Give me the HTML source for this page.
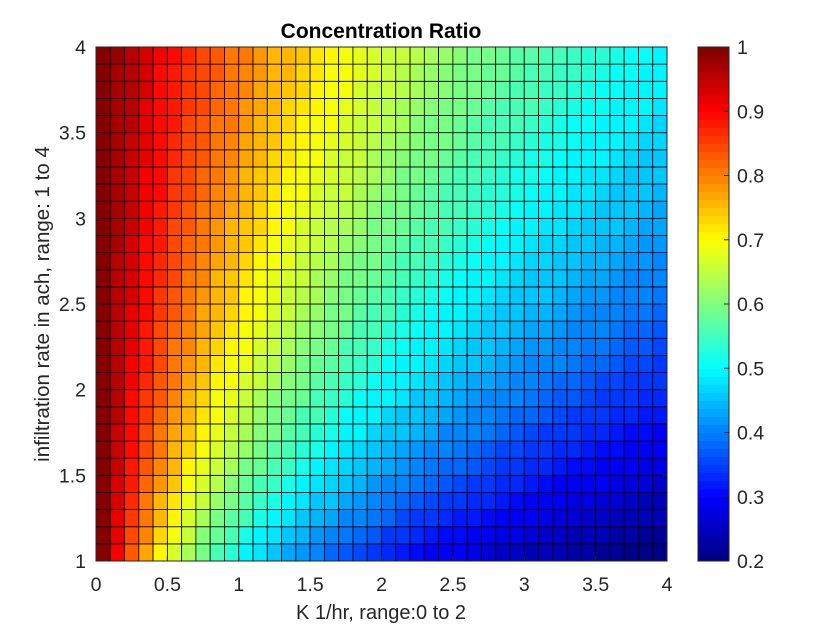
<!DOCTYPE html>
<html><head><meta charset="utf-8"><style>
html,body{margin:0;padding:0;background:#fff;}
svg{display:block;font-family:"Liberation Sans",Arial,sans-serif;}
</style></head><body>
<svg id="chart" width="840" height="630" viewBox="0 0 840 630">
<rect width="840" height="630" fill="#fff"/>
<g id="cells"></g>
<g id="axes"></g>
<g id="cbar"></g>
<text x="381" y="38" text-anchor="middle" font-size="21" font-weight="bold" fill="#000">Concentration Ratio</text>
<text x="381" y="619" text-anchor="middle" font-size="20" fill="#262626">K 1/hr, range:0 to 2</text>
<text transform="translate(49,304) rotate(-90)" text-anchor="middle" font-size="20.5" fill="#262626">infiltration rate in ach, range: 1 to 4</text>
</svg>
<script>
const xEdges=[0,0.1,0.2,0.3,0.4,0.5,0.6,0.7,0.8,0.9,1,1.1,1.2,1.3,1.4,1.5,1.6,1.7,1.8,1.9,2,2.1,2.2,2.3,2.4,2.5,2.6,2.7,2.8,2.9,3,3.1,3.2,3.3,3.4,3.5,3.6,3.7,3.8,3.9,4];
const yEdges=[1,1.1,1.2,1.3,1.4,1.5,1.6,1.7,1.8,1.9,2,2.1,2.2,2.3,2.4,2.5,2.6,2.7,2.8,2.9,3,3.1,3.2,3.3,3.4,3.5,3.6,3.7,3.8,3.9,4];
const xTicks=[0,0.5,1,1.5,2,2.5,3,3.5,4];
const xTickLabels=["0","0.5","1","1.5","2","2.5","3","3.5","4"];
const yTicks=[1,1.5,2,2.5,3,3.5,4];
const yTickLabels=["1","1.5","2","2.5","3","3.5","4"];
const cTicks=[0.2,0.3,0.4,0.5,0.6,0.7,0.8,0.9,1];
const cTickLabels=["0.2","0.3","0.4","0.5","0.6","0.7","0.8","0.9","1"];
const cMin=0.2, cMax=1;
const values=[
[1,.91,.83,.77,.71,.67,.63,.59,.56,.53,.50,.48,.45,.43,.42,.40,.38,.37,.36,.34,.33,.32,.31,.30,.29,.29,.28,.27,.26,.26,.25,.24,.24,.23,.23,.22,.22,.21,.21,.20],
[1,.92,.85,.79,.73,.69,.65,.61,.58,.55,.52,.50,.48,.46,.44,.42,.41,.39,.38,.37,.35,.34,.33,.32,.31,.31,.30,.29,.28,.28,.27,.26,.26,.25,.24,.24,.23,.23,.22,.22],
[1,.92,.86,.80,.75,.71,.67,.63,.60,.57,.55,.52,.50,.48,.46,.44,.43,.41,.40,.39,.38,.36,.35,.34,.33,.32,.32,.31,.30,.29,.29,.28,.27,.27,.26,.26,.25,.24,.24,.24],
[1,.93,.87,.81,.76,.72,.68,.65,.62,.59,.57,.54,.52,.50,.48,.46,.45,.43,.42,.41,.39,.38,.37,.36,.35,.34,.33,.33,.32,.31,.30,.30,.29,.28,.28,.27,.27,.26,.25,.25],
[1,.93,.88,.82,.78,.74,.70,.67,.64,.61,.58,.56,.54,.52,.50,.48,.47,.45,.44,.42,.41,.40,.39,.38,.37,.36,.35,.34,.33,.33,.32,.31,.30,.30,.29,.29,.28,.27,.27,.26],
[1,.94,.88,.83,.79,.75,.71,.68,.65,.63,.60,.58,.56,.54,.52,.50,.48,.47,.45,.44,.43,.42,.41,.39,.38,.38,.37,.36,.35,.34,.33,.33,.32,.31,.31,.30,.29,.29,.28,.28],
[1,.94,.89,.84,.80,.76,.73,.70,.67,.64,.62,.59,.57,.55,.53,.52,.50,.48,.47,.46,.44,.43,.42,.41,.40,.39,.38,.37,.36,.36,.35,.34,.33,.33,.32,.31,.31,.30,.30,.29],
[1,.94,.89,.85,.81,.77,.74,.71,.68,.65,.63,.61,.59,.57,.55,.53,.52,.50,.49,.47,.46,.45,.44,.43,.41,.40,.40,.39,.38,.37,.36,.35,.35,.34,.33,.33,.32,.31,.31,.30],
[1,.95,.90,.86,.82,.78,.75,.72,.69,.67,.64,.62,.60,.58,.56,.55,.53,.51,.50,.49,.47,.46,.45,.44,.43,.42,.41,.40,.39,.38,.38,.37,.36,.35,.35,.34,.33,.33,.32,.32],
[1,.95,.90,.86,.83,.79,.76,.73,.70,.68,.66,.63,.61,.59,.58,.56,.54,.53,.51,.50,.49,.48,.46,.45,.44,.43,.42,.41,.40,.40,.39,.38,.37,.37,.36,.35,.35,.34,.33,.33],
[1,.95,.91,.87,.83,.80,.77,.74,.71,.69,.67,.65,.63,.61,.59,.57,.56,.54,.53,.51,.50,.49,.48,.47,.45,.44,.43,.43,.42,.41,.40,.39,.38,.38,.37,.36,.36,.35,.34,.34],
[1,.95,.91,.88,.84,.81,.78,.75,.72,.70,.68,.66,.64,.62,.60,.58,.57,.55,.54,.53,.51,.50,.49,.48,.47,.46,.45,.44,.43,.42,.41,.40,.40,.39,.38,.38,.37,.36,.36,.35],
[1,.96,.92,.88,.85,.81,.79,.76,.73,.71,.69,.67,.65,.63,.61,.59,.58,.56,.55,.54,.52,.51,.50,.49,.48,.47,.46,.45,.44,.43,.42,.42,.41,.40,.39,.39,.38,.37,.37,.36],
[1,.96,.92,.88,.85,.82,.79,.77,.74,.72,.70,.68,.66,.64,.62,.61,.59,.58,.56,.55,.53,.52,.51,.50,.49,.48,.47,.46,.45,.44,.43,.43,.42,.41,.40,.40,.39,.38,.38,.37],
[1,.96,.92,.89,.86,.83,.80,.77,.75,.73,.71,.69,.67,.65,.63,.62,.60,.59,.57,.56,.55,.53,.52,.51,.50,.49,.48,.47,.46,.45,.44,.44,.43,.42,.41,.41,.40,.39,.39,.38],
[1,.96,.93,.89,.86,.83,.81,.78,.76,.74,.71,.69,.68,.66,.64,.63,.61,.60,.58,.57,.56,.54,.53,.52,.51,.50,.49,.48,.47,.46,.45,.45,.44,.43,.42,.42,.41,.40,.40,.39],
[1,.96,.93,.90,.87,.84,.81,.79,.76,.74,.72,.70,.68,.67,.65,.63,.62,.60,.59,.58,.57,.55,.54,.53,.52,.51,.50,.49,.48,.47,.46,.46,.45,.44,.43,.43,.42,.41,.41,.40],
[1,.96,.93,.90,.87,.84,.82,.79,.77,.75,.73,.71,.69,.68,.66,.64,.63,.61,.60,.59,.57,.56,.55,.54,.53,.52,.51,.50,.49,.48,.47,.47,.46,.45,.44,.44,.43,.42,.42,.41],
[1,.97,.93,.90,.88,.85,.82,.80,.78,.76,.74,.72,.70,.68,.67,.65,.64,.62,.61,.60,.58,.57,.56,.55,.54,.53,.52,.51,.50,.49,.48,.47,.47,.46,.45,.44,.44,.43,.42,.42],
[1,.97,.94,.91,.88,.85,.83,.81,.78,.76,.74,.73,.71,.69,.67,.66,.64,.63,.62,.60,.59,.58,.57,.56,.55,.54,.53,.52,.51,.50,.49,.48,.48,.47,.46,.45,.45,.44,.43,.43],
[1,.97,.94,.91,.88,.86,.83,.81,.79,.77,.75,.73,.71,.70,.68,.67,.65,.64,.63,.61,.60,.59,.58,.57,.56,.55,.54,.53,.52,.51,.50,.49,.48,.48,.47,.46,.45,.45,.44,.43],
[1,.97,.94,.91,.89,.86,.84,.82,.79,.78,.76,.74,.72,.70,.69,.67,.66,.65,.63,.62,.61,.60,.58,.57,.56,.55,.54,.53,.53,.52,.51,.50,.49,.48,.48,.47,.46,.46,.45,.44],
[1,.97,.94,.91,.89,.86,.84,.82,.80,.78,.76,.74,.73,.71,.70,.68,.67,.65,.64,.63,.62,.60,.59,.58,.57,.56,.55,.54,.53,.52,.52,.51,.50,.49,.48,.48,.47,.46,.46,.45],
[1,.97,.94,.92,.89,.87,.85,.83,.80,.79,.77,.75,.73,.72,.70,.69,.67,.66,.65,.63,.62,.61,.60,.59,.58,.57,.56,.55,.54,.53,.52,.52,.51,.50,.49,.49,.48,.47,.46,.46],
[1,.97,.94,.92,.89,.87,.85,.83,.81,.79,.77,.76,.74,.72,.71,.69,.68,.67,.65,.64,.63,.62,.61,.60,.59,.58,.57,.56,.55,.54,.53,.52,.52,.51,.50,.49,.49,.48,.47,.47],
[1,.97,.95,.92,.90,.88,.85,.83,.81,.80,.78,.76,.74,.73,.71,.70,.69,.67,.66,.65,.64,.63,.61,.60,.59,.58,.57,.56,.56,.55,.54,.53,.52,.51,.51,.50,.49,.49,.48,.47],
[1,.97,.95,.92,.90,.88,.86,.84,.82,.80,.78,.77,.75,.73,.72,.71,.69,.68,.67,.65,.64,.63,.62,.61,.60,.59,.58,.57,.56,.55,.55,.54,.53,.52,.51,.51,.50,.49,.49,.48],
[1,.97,.95,.93,.90,.88,.86,.84,.82,.80,.79,.77,.76,.74,.73,.71,.70,.69,.67,.66,.65,.64,.63,.62,.61,.60,.59,.58,.57,.56,.55,.54,.54,.53,.52,.51,.51,.50,.49,.49],
[1,.97,.95,.93,.90,.88,.86,.84,.83,.81,.79,.78,.76,.75,.73,.72,.70,.69,.68,.67,.66,.64,.63,.62,.61,.60,.59,.58,.58,.57,.56,.55,.54,.54,.53,.52,.51,.51,.50,.49],
[1,.98,.95,.93,.91,.89,.87,.85,.83,.81,.80,.78,.76,.75,.74,.72,.71,.70,.68,.67,.66,.65,.64,.63,.62,.61,.60,.59,.58,.57,.57,.56,.55,.54,.53,.53,.52,.51,.51,.50]
];
const NS='http://www.w3.org/2000/svg';
const PL=96,PR=667,PT=47,PB=561;
const CBL=698,CBR=729;
function sx(v){return PL+(v-xEdges[0])/(xEdges[xEdges.length-1]-xEdges[0])*(PR-PL);}
function sy(v){return PB-(v-yEdges[0])/(yEdges[yEdges.length-1]-yEdges[0])*(PB-PT);}
function sc(v){return PB-(v-cMin)/(cMax-cMin)*(PB-PT);}
function cl(v){return Math.max(0,Math.min(1,v));}
function jet(i){const t=(i+0.5)/64;
 const r=cl(1.5-Math.abs(4*t-3)),g=cl(1.5-Math.abs(4*t-2)),b=cl(1.5-Math.abs(4*t-1));
 return 'rgb('+Math.round(r*255)+','+Math.round(g*255)+','+Math.round(b*255)+')';}
function colorOf(v){let i=Math.floor((v-cMin)/(cMax-cMin)*64);i=Math.max(0,Math.min(63,i));return jet(i);}
function mk(tag,attrs,parent){const e=document.createElementNS(NS,tag);for(const k in attrs)e.setAttribute(k,attrs[k]);parent.appendChild(e);return e;}
const cells=document.getElementById('cells');
for(let j=0;j<values.length;j++){for(let i=0;i<values[j].length;i++){
 const x0=sx(xEdges[i]),x1=sx(xEdges[i+1]),y0=sy(yEdges[j+1]),y1=sy(yEdges[j]);
 const r=mk('rect',{x:x0,y:y0,width:x1-x0,height:y1-y0,fill:colorOf(values[j][i]),stroke:'#000','stroke-width':0.8},cells);
 
 
}}
const axes=document.getElementById('axes');
const box=mk('rect',{x:PL,y:PT,width:PR-PL,height:PB-PT,fill:'none',stroke:'#262626','stroke-width':1},axes);


xTicks.forEach((v,k)=>{const x=sx(v);
 mk('line',{x1:x,x2:x,y1:PB,y2:PB-5,stroke:'#262626'},axes);
 mk('line',{x1:x,x2:x,y1:PT,y2:PT+5,stroke:'#262626'},axes);
 const t=mk('text',{x:x,y:591,'text-anchor':'middle','font-size':19.5,fill:'#262626'},axes);t.textContent=xTickLabels[k];
 
 
});
yTicks.forEach((v,k)=>{const y=sy(v);
 mk('line',{x1:PL,x2:PL+5,y1:y,y2:y,stroke:'#262626'},axes);
 mk('line',{x1:PR,x2:PR-5,y1:y,y2:y,stroke:'#262626'},axes);
 const t=mk('text',{x:86,y:y+7,'text-anchor':'end','font-size':19.5,fill:'#262626'},axes);t.textContent=yTickLabels[k];
 
 
});
const cbar=document.getElementById('cbar');
for(let i=0;i<64;i++){
 const v0=cMin+(cMax-cMin)*i/64,v1=cMin+(cMax-cMin)*(i+1)/64;
 const r=mk('rect',{x:CBL,y:sc(v1),width:CBR-CBL,height:sc(v0)-sc(v1)+0.5,fill:jet(i)},cbar);
 
 
}
mk('rect',{x:CBL,y:PT,width:CBR-CBL,height:PB-PT,fill:'none',stroke:'#262626'},cbar);
cTicks.forEach((v,k)=>{const y=sc(v);
 mk('line',{x1:CBR,x2:CBR-5,y1:y,y2:y,stroke:'#262626'},cbar);
 const t=mk('text',{x:737,y:y+7,'font-size':19.5,fill:'#262626'},cbar);t.textContent=cTickLabels[k];
 
 
});
</script>
</body></html>
